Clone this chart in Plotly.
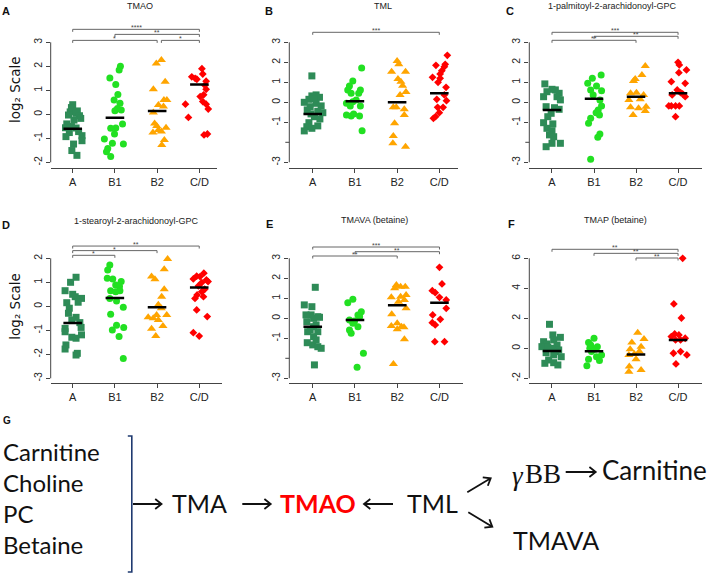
import math
import plotly.graph_objects as go

W, H = 709, 578
GROUPS = ["A", "B1", "B2", "C/D"]
COLORS = ["#2E8B57", "#22E022", "#FFA500", "#FF0000"]
SYMBOLS = ["square", "circle", "triangle-up", "diamond"]
SIZES = [7, 7, 8, 6]

# ---------------- Panel A: TMAO ----------------
TMAO_A_Y = [0.40, 0.28, 0.14, 0.10, 0.04, -0.06, -0.03, -0.17, -0.40, -0.51, -0.57, -0.56, -0.76, -0.89, -0.93, -1.10, -1.24, -1.51, -1.71, -0.24, -0.72]
TMAO_A_DX = [0.00, -0.03, 0.11, -0.06, 0.08, 0.16, -0.10, 0.19, -0.14, -0.03, 0.08, -0.17, -0.08, 0.22, -0.16, 0.22, 0.02, -0.02, 0.10, 0.03, 0.14]
TMAO_B1_Y = [2.00, 1.85, 1.51, 1.24, 0.82, 0.60, 0.46, 0.24, 0.15, 0.18, -0.40, -0.57, -0.58, -0.82, -1.03, -1.21, -1.24, -1.43, -1.56, -1.76]
TMAO_B1_DX = [0.13, 0.10, -0.12, 0.02, 0.07, -0.02, 0.12, 0.06, 0.00, 0.15, 0.18, 0.02, -0.10, -0.01, -0.25, -0.06, 0.20, -0.17, -0.20, -0.10]
TMAO_B2_Y = [2.26, 2.12, 1.36, 1.04, 0.60, 0.60, 0.39, 0.32, 0.08, -0.38, -0.49, -0.65, -0.56, -0.72, -0.76, -1.07, -1.28]
TMAO_B2_DX = [0.10, -0.02, 0.19, -0.09, 0.23, 0.16, 0.03, 0.15, -0.09, -0.06, -0.01, 0.03, 0.21, 0.10, -0.10, 0.17, 0.11]
TMAO_CD_Y = [1.90, 1.68, 1.56, 1.46, 1.38, 1.21, 1.04, 0.81, 0.74, 0.53, 0.42, 0.42, 0.22, -0.13, -0.82, -0.86, 1.50]
TMAO_CD_DX = [0.06, 0.08, -0.18, -0.06, 0.16, 0.13, 0.16, 0.10, 0.02, 0.08, -0.33, 0.16, 0.21, -0.26, 0.19, 0.11, -0.10]
TMAO_MED = [-0.60, -0.14, 0.14, 1.24]
TMAO_BR_FROM = [1, 2, 1, 3.1]
TMAO_BR_TO = [4, 4, 3, 4]
TMAO_BR_Y = [3.54, 3.33, 3.08, 3.08]
TMAO_BR_LAB = ["****", "**", "*", "*"]

# ---------------- Panel B: TML ----------------
TML_A_Y = [1.32, 0.37, 0.32, 0.25, 0.15, 0.00, -0.05, -0.18, -0.38, -0.45, -0.52, -0.58, -0.72, -0.83, -1.02, -1.18, -1.22, -1.43, -1.30, 0.18, -0.22]
TML_A_DX = [-0.02, 0.08, -0.02, 0.16, -0.09, -0.20, 0.08, 0.20, -0.13, 0.12, 0.24, -0.04, 0.04, 0.17, -0.09, 0.12, -0.14, -0.20, -0.02, 0.02, -0.06]
TML_B1_Y = [1.72, 1.07, 0.82, 0.62, 0.62, 0.45, 0.45, -0.05, 0.03, 0.12, -0.18, -0.18, -0.63, -0.68, -0.68, -0.58, -1.42]
TML_B1_DX = [0.16, -0.05, -0.13, -0.17, 0.13, 0.09, -0.09, -0.20, -0.05, 0.03, 0.13, -0.11, -0.20, -0.09, 0.11, -0.03, 0.17]
TML_B2_Y = [2.07, 1.90, 1.53, 1.53, 1.17, 1.03, 0.83, 0.52, 0.37, -0.25, -0.25, -0.35, -0.63, -1.05, -1.68, -2.05, -2.22]
TML_B2_DX = [0.00, 0.04, -0.13, 0.20, 0.02, 0.09, 0.13, 0.21, 0.07, -0.09, -0.02, 0.17, 0.17, -0.06, -0.09, -0.10, 0.20]
TML_CD_Y = [2.35, 1.90, 1.85, 1.78, 1.58, 1.42, 1.25, 1.20, 1.00, 0.75, 0.15, 0.08, -0.25, -0.25, -0.52, -0.72, -0.80, 0.37]
TML_CD_DX = [0.19, 0.14, -0.08, 0.12, 0.06, 0.02, -0.16, 0.02, -0.03, 0.16, -0.06, 0.17, -0.04, 0.09, 0.00, -0.09, -0.14, 0.12]
TML_MED = [-0.58, 0.05, 0.00, 0.45]
TML_BR_FROM = [1]
TML_BR_TO = [4]
TML_BR_Y = [3.50]
TML_BR_LAB = ["***"]

# ---------------- Panel C: 1-palmitoyl-2-arachidonoyl-GPC ----------------
PGPC_A_Y = [0.92, 0.65, 0.62, 0.53, 0.45, 0.28, 0.28, 0.12, -0.22, -0.27, -0.35, -0.55, -0.72, -1.02, -1.08, -1.30, -1.42, -1.63, -1.72, -2.05, -2.05, -2.22]
PGPC_A_DX = [-0.17, 0.00, 0.08, -0.12, 0.17, 0.12, -0.20, 0.20, -0.14, 0.06, 0.17, -0.02, -0.10, -0.20, 0.02, -0.12, 0.00, -0.06, 0.04, 0.20, 0.00, -0.14]
PGPC_B1_Y = [1.37, 1.20, 0.95, 0.82, 0.58, 0.62, 0.37, 0.12, -0.18, -0.38, -0.52, -0.63, -0.80, -1.05, -1.58, -1.75, -2.85]
PGPC_B1_DX = [0.17, -0.04, -0.15, 0.06, 0.18, -0.08, -0.02, 0.14, 0.18, 0.10, 0.05, 0.13, -0.08, -0.13, 0.14, 0.09, -0.08]
PGPC_B2_Y = [1.82, 1.37, 1.17, 1.07, 0.45, 0.48, 0.37, 0.12, 0.15, -0.25, -0.30, -0.22, -0.63, -0.43]
PGPC_B2_DX = [0.22, 0.14, -0.02, -0.06, -0.13, 0.01, 0.18, -0.17, 0.10, -0.13, 0.06, 0.24, -0.07, 0.22]
PGPC_CD_Y = [2.00, 1.87, 1.48, 1.62, 1.03, 0.95, 0.62, 0.37, 0.48, 0.28, -0.18, -0.18, -0.18, -0.18, -0.72, 0.42]
PGPC_CD_DX = [0.00, 0.03, 0.02, 0.20, -0.16, 0.17, -0.02, -0.14, 0.06, 0.17, -0.16, -0.06, 0.03, -0.22, -0.06, 0.11]
PGPC_MED = [-0.38, 0.18, 0.28, 0.45]
PGPC_BR_FROM = [1, 2, 1]
PGPC_BR_TO = [4, 4, 3]
PGPC_BR_Y = [3.50, 3.30, 3.10]
PGPC_BR_LAB = ["***", "**", "**"]

# ---------------- Panel D: 1-stearoyl-2-arachidonoyl-GPC ----------------
SGPC_A_Y = [1.21, 1.00, 0.65, 0.50, 0.33, 0.40, 0.15, 0.17, -0.08, -0.29, -0.46, -0.68, -0.92, -0.88, -1.06, -1.19, -1.29, -1.33, -1.61, -1.78, -1.96, -2.03, -0.57]
SGPC_A_DX = [0.08, -0.05, -0.18, 0.00, 0.21, 0.06, -0.14, 0.13, -0.08, -0.10, 0.08, 0.17, -0.18, 0.20, -0.18, 0.21, -0.02, 0.08, -0.16, -0.18, 0.11, 0.08, -0.02]
SGPC_B1_Y = [1.72, 1.51, 1.17, 1.14, 1.03, 0.89, 0.82, 0.65, 0.61, 0.65, 0.33, 0.22, -0.04, -0.33, -0.79, -0.88, -0.99, -1.26, -2.17]
SGPC_B1_DX = [-0.12, -0.17, -0.18, -0.05, 0.15, 0.02, 0.11, -0.10, 0.02, 0.12, -0.12, 0.04, 0.20, -0.10, 0.04, 0.21, -0.06, 0.10, 0.20]
SGPC_B2_Y = [1.97, 1.54, 1.24, 1.13, 0.71, 0.40, 0.06, -0.36, -0.46, -0.50, -0.57, -0.82, -0.94, -1.24, -0.36, -0.08]
SGPC_B2_DX = [0.25, 0.17, -0.13, -0.05, 0.17, 0.11, 0.03, -0.01, -0.21, -0.09, 0.03, 0.14, -0.13, -0.03, 0.23, 0.10]
SGPC_CD_Y = [1.38, 1.26, 1.24, 1.14, 1.10, 0.99, 0.85, 1.03, 0.71, 0.61, 0.47, 0.40, 0.33, -0.15, -0.43, -1.10, -1.24]
SGPC_CD_DX = [0.11, -0.06, 0.02, -0.14, 0.17, 0.06, -0.02, 0.21, 0.13, 0.06, -0.05, 0.10, -0.10, -0.06, 0.19, -0.14, 0.00]
SGPC_MED = [-0.70, 0.35, -0.04, 0.78]
SGPC_BR_FROM = [1, 1, 1]
SGPC_BR_TO = [4, 3, 2]
SGPC_BR_Y = [2.51, 2.32, 2.125]
SGPC_BR_LAB = ["**", "*", "*"]

# ---------------- Panel E: TMAVA (betaine) ----------------
TMAVA_A_Y = [1.55, 0.67, 0.58, 0.17, 0.17, 0.08, 0.05, 0.00, -0.17, -0.33, -0.42, -0.67, -0.67, -0.92, -1.22, -1.33, -1.42, -1.50, -2.33, -0.58, -1.08]
TMAVA_A_DX = [0.06, -0.20, -0.02, -0.04, -0.16, 0.12, 0.16, 0.02, -0.14, 0.08, 0.02, -0.12, 0.12, 0.02, -0.13, 0.00, 0.12, 0.20, 0.04, -0.06, 0.08]
TMAVA_B1_Y = [0.95, 0.78, 0.33, 0.17, -0.08, -0.13, -0.42, -0.58, -0.75, -1.75, -2.45, -0.25, 0.08]
TMAVA_B1_DX = [-0.05, -0.17, 0.15, 0.07, -0.13, -0.01, 0.07, -0.13, -0.09, 0.20, 0.05, -0.05, 0.11]
TMAVA_B2_Y = [1.67, 1.58, 1.58, 1.50, 1.17, 1.08, 1.05, 0.92, 0.83, 0.20, 0.50, -0.38, -0.25, -0.42, -0.45, -0.55, -1.05, -2.28]
TMAVA_B2_DX = [-0.02, 0.08, 0.19, -0.06, 0.21, 0.08, -0.14, 0.17, 0.03, -0.13, 0.21, -0.14, 0.00, 0.10, 0.16, 0.00, 0.17, -0.09]
TMAVA_CD_Y = [2.55, 1.72, 1.38, 1.28, 1.05, 0.92, 0.50, 0.17, -0.05, -0.22, -0.33, -1.17, -1.17]
TMAVA_CD_DX = [0.00, 0.06, -0.17, -0.10, 0.00, 0.16, 0.16, -0.16, 0.02, -0.17, -0.10, -0.11, 0.12]
TMAVA_MED = [-0.42, -0.08, 0.65, 0.78]
TMAVA_BR_FROM = [1, 2, 1]
TMAVA_BR_TO = [4, 4, 3]
TMAVA_BR_Y = [3.565, 3.33, 3.115]
TMAVA_BR_LAB = ["***", "**", "**"]

# ---------------- Panel F: TMAP (betaine) ----------------
TMAP_A_Y = [1.60, 0.89, 0.73, 0.44, 0.56, 0.29, 0.22, 0.11, 0.00, -0.11, -0.29, -0.44, -0.56, -0.78, -1.00, -0.96, -1.11, 0.07, -0.22]
TMAP_A_DX = [-0.06, 0.02, 0.20, -0.20, 0.04, -0.12, 0.12, -0.24, 0.00, 0.16, -0.14, 0.04, 0.22, -0.08, -0.17, 0.04, 0.14, -0.10, 0.08]
TMAP_B1_Y = [0.67, 0.38, 0.11, 0.00, -0.22, -0.44, -0.56, -0.73, -0.82, -1.16, -0.07, 0.22]
TMAP_B1_DX = [0.00, -0.13, 0.08, -0.10, -0.06, 0.18, 0.06, -0.13, 0.13, -0.17, 0.02, -0.08]
TMAP_B2_Y = [1.04, 0.62, 0.38, 0.11, -0.07, -0.22, -0.44, -0.73, -1.22, -1.44, -1.56, -0.38]
TMAP_B2_DX = [0.04, 0.19, -0.10, 0.12, -0.14, 0.08, -0.17, 0.00, -0.16, 0.12, -0.17, -0.04]
TMAP_CD_Y = [6.00, 2.96, 2.02, 0.96, 0.89, 0.78, 0.67, 0.56, 0.56, -0.33, -0.22, -0.44, -1.04]
TMAP_CD_DX = [0.11, -0.10, 0.08, -0.08, 0.02, -0.16, 0.17, -0.06, 0.06, -0.11, 0.06, 0.21, -0.05]
TMAP_MED = [-0.18, -0.20, -0.42, 0.55]
TMAP_BR_FROM = [1, 2, 3]
TMAP_BR_TO = [4, 4, 4]
TMAP_BR_Y = [6.60, 6.33, 6.02]
TMAP_BR_LAB = ["**", "**", "**"]

TICKS_A = [-2, -1, 0, 1, 2, 3]
TICKS_B = [-3, -2, -1, 0, 1, 2, 3]
TICKS_B_LABELLED = [-3, -1, 0, 1, 2, 3]
TICKS_D = [-3, -2, -1, 0, 1, 2]
TICKS_F = [-2, 0, 2, 4, 6]

# ---------------- layout helpers (pixel -> paper) ----------------
def PX(x):
    return x / W

def PY(y):
    return 1 - y / H

FONT = "Liberation Sans, Arial, sans-serif"

panels = [
    dict(letter="A", title="TMAO", ys=[TMAO_A_Y, TMAO_B1_Y, TMAO_B2_Y, TMAO_CD_Y],
         dxs=[TMAO_A_DX, TMAO_B1_DX, TMAO_B2_DX, TMAO_CD_DX], med=TMAO_MED,
         br=(TMAO_BR_FROM, TMAO_BR_TO, TMAO_BR_Y, TMAO_BR_LAB),
         ticks=TICKS_A, labelled=TICKS_A,
         xpx=(50.7, 216.7), xr=[0.479, 4.41], ypx=(20, 168), zero=114.3, ppu=24,
         tpos=(140, 6), lpos=(6, 11)),
    dict(letter="B", title="TML", ys=[TML_A_Y, TML_B1_Y, TML_B2_Y, TML_CD_Y],
         dxs=[TML_A_DX, TML_B1_DX, TML_B2_DX, TML_CD_DX], med=TML_MED,
         br=(TML_BR_FROM, TML_BR_TO, TML_BR_Y, TML_BR_LAB),
         ticks=TICKS_B, labelled=TICKS_B_LABELLED,
         xpx=(289.3, 457.7), xr=[0.445, 4.436], ypx=(20, 168), zero=102.3, ppu=20,
         tpos=(382.7, 6), lpos=(269, 11)),
    dict(letter="C", title="1-palmitoyl-2-arachidonoyl-GPC", ys=[PGPC_A_Y, PGPC_B1_Y, PGPC_B2_Y, PGPC_CD_Y],
         dxs=[PGPC_A_DX, PGPC_B1_DX, PGPC_B2_DX, PGPC_CD_DX], med=PGPC_MED,
         br=(PGPC_BR_FROM, PGPC_BR_TO, PGPC_BR_Y, PGPC_BR_LAB),
         ticks=TICKS_B, labelled=TICKS_B_LABELLED,
         xpx=(529.3, 702), xr=[0.46, 4.57], ypx=(20, 168), zero=102.3, ppu=20,
         tpos=(612, 6), lpos=(510, 11)),
    dict(letter="D", title="1-stearoyl-2-arachidonoyl-GPC", ys=[SGPC_A_Y, SGPC_B1_Y, SGPC_B2_Y, SGPC_CD_Y],
         dxs=[SGPC_A_DX, SGPC_B1_DX, SGPC_B2_DX, SGPC_CD_DX], med=SGPC_MED,
         br=(SGPC_BR_FROM, SGPC_BR_TO, SGPC_BR_Y, SGPC_BR_LAB),
         ticks=TICKS_D, labelled=TICKS_D,
         xpx=(50.7, 222), xr=[0.479, 4.54], ypx=(235, 382.7), zero=306.3, ppu=24,
         tpos=(136.7, 220.5), lpos=(6, 225)),
    dict(letter="E", title="TMAVA (betaine)", ys=[TMAVA_A_Y, TMAVA_B1_Y, TMAVA_B2_Y, TMAVA_CD_Y],
         dxs=[TMAVA_A_DX, TMAVA_B1_DX, TMAVA_B2_DX, TMAVA_CD_DX], med=TMAVA_MED,
         br=(TMAVA_BR_FROM, TMAVA_BR_TO, TMAVA_BR_Y, TMAVA_BR_LAB),
         ticks=TICKS_B, labelled=TICKS_B_LABELLED,
         xpx=(289.3, 462.7), xr=[0.445, 4.55], ypx=(235, 382.7), zero=318.3, ppu=20,
         tpos=(375, 220), lpos=(269, 224)),
    dict(letter="F", title="TMAP (betaine)", ys=[TMAP_A_Y, TMAP_B1_Y, TMAP_B2_Y, TMAP_CD_Y],
         dxs=[TMAP_A_DX, TMAP_B1_DX, TMAP_B2_DX, TMAP_CD_DX], med=TMAP_MED,
         br=(TMAP_BR_FROM, TMAP_BR_TO, TMAP_BR_Y, TMAP_BR_LAB),
         ticks=TICKS_F, labelled=TICKS_F,
         xpx=(529.3, 702), xr=[0.46, 4.57], ypx=(235, 382.7), zero=348.3, ppu=15,
         tpos=(615.3, 220), lpos=(511, 224)),
]

fig = go.Figure()
shapes = []
annotations = []
layout_axes = {}
TICKLEN = 4

for i, p in enumerate(panels):
    n = i + 1
    xa = "x" if n == 1 else f"x{n}"
    ya = "y" if n == 1 else f"y{n}"
    xkey = "xaxis" if n == 1 else f"xaxis{n}"
    ykey = "yaxis" if n == 1 else f"yaxis{n}"
    top, bot = p["ypx"]
    yr = [(p["zero"] - bot) / p["ppu"], (p["zero"] - top) / p["ppu"]]
    wpx = p["xpx"][1] - p["xpx"][0]

    # points
    for g in range(4):
        xs = [g + 1 + d for d in p["dxs"][g]]
        fig.add_trace(go.Scatter(
            x=xs, y=p["ys"][g], mode="markers", xaxis=xa, yaxis=ya,
            marker=dict(symbol=SYMBOLS[g], color=COLORS[g], size=SIZES[g], line=dict(width=0)),
            showlegend=False, hoverinfo="skip", cliponaxis=False))
    # medians
    mx, my = [], []
    for g, m in enumerate(p["med"]):
        mx += [g + 1 - 0.22, g + 1 + 0.22, None]
        my += [m, m, None]
    fig.add_trace(go.Scatter(x=mx, y=my, mode="lines", xaxis=xa, yaxis=ya,
                             line=dict(color="black", width=2.5),
                             showlegend=False, hoverinfo="skip"))

    layout_axes[xkey] = dict(
        domain=[PX(p["xpx"][0]), PX(p["xpx"][1])], range=p["xr"], anchor=ya,
        tickmode="array", tickvals=[1, 2, 3, 4], ticktext=GROUPS,
        showline=True, linecolor="#444", linewidth=1, ticks="outside", ticklen=TICKLEN,
        tickcolor="#444", showgrid=False, zeroline=False,
        tickfont=dict(family=FONT, size=11, color="#222"), fixedrange=True)
    layout_axes[ykey] = dict(
        domain=[PY(bot), PY(top)], range=yr, anchor=xa,
        tickmode="array", tickvals=p["labelled"], ticktext=[str(t) for t in p["labelled"]],
        tickangle=-90, showline=False, ticks="outside", ticklen=TICKLEN, tickcolor="#444",
        showgrid=False, zeroline=False,
        tickfont=dict(family=FONT, size=10.5, color="#222"), fixedrange=True)

    # y axis line from first to last tick
    shapes.append(dict(type="line", xref=f"{xa} domain", yref=ya, x0=0, x1=0,
                       y0=min(p["ticks"]), y1=max(p["ticks"]),
                       line=dict(color="#444", width=1)))
    # unlabelled tick marks (R drops overlapping labels)
    for t in p["ticks"]:
        if t not in p["labelled"]:
            shapes.append(dict(type="line", xref=f"{xa} domain", yref=ya,
                               x0=-TICKLEN / wpx, x1=0, y0=t, y1=t,
                               line=dict(color="#444", width=1)))

    # significance brackets
    drop = 2.5 / p["ppu"]
    f_, t_, yb, lab = p["br"]
    for a, b, yy, s in zip(f_, t_, yb, lab):
        shapes.append(dict(type="path", xref=xa, yref=ya,
                           path=f"M {a} {yy - drop} L {a} {yy} L {b} {yy} L {b} {yy - drop}",
                           line=dict(color="#666", width=1)))
        annotations.append(dict(x=(a + b) / 2, y=yy, xref=xa, yref=ya, text=s,
                                showarrow=False, yanchor="bottom", yshift=-4,
                                font=dict(family=FONT, size=7, color="#444")))

    # title and letter
    annotations.append(dict(x=PX(p["tpos"][0]), y=PY(p["tpos"][1]), xref="paper", yref="paper",
                            text=p["title"], showarrow=False, xanchor="center", yanchor="middle",
                            font=dict(family=FONT, size=9, color="#222")))
    annotations.append(dict(x=PX(p["lpos"][0]), y=PY(p["lpos"][1]), xref="paper", yref="paper",
                            text=p["letter"], showarrow=False, xanchor="center", yanchor="middle",
                            font=dict(family=FONT, size=11, color="#111", weight="bold")))

# y axis titles
for yc in (90, 306.7):
    annotations.append(dict(x=PX(15), y=PY(yc), xref="paper", yref="paper",
                            text="log₂ Scale", textangle=-90, showarrow=False,
                            xanchor="center", yanchor="middle",
                            font=dict(family="DejaVu Sans, Liberation Sans, sans-serif", size=13.5, color="#111")))

# ---------------- Panel G: pathway diagram ----------------
DFONT = "Lato, Carlito, Calibri, sans-serif"

def txt(x, y, s, size=24, color="#111", family=DFONT, anchor="left", weight="normal", style="normal"):
    annotations.append(dict(x=PX(x), y=PY(y), xref="paper", yref="paper", text=s,
                            showarrow=False, xanchor=anchor, yanchor="middle", borderpad=0,
                            font=dict(family=family, size=size, color=color, weight=weight, style=style)))

def arrow(x0, y0, x1, y1, head=8, ang=38):
    dx, dy = x1 - x0, y1 - y0
    L = math.hypot(dx, dy)
    ux, uy = dx / L, dy / L
    pts = []
    for sgn in (1, -1):
        a = math.radians(ang * sgn)
        rx = ux * math.cos(a) - uy * math.sin(a)
        ry = ux * math.sin(a) + uy * math.cos(a)
        pts.append((x1 - head * rx, y1 - head * ry))
    path = (f"M {PX(x0)} {PY(y0)} L {PX(x1)} {PY(y1)} "
            f"M {PX(pts[0][0])} {PY(pts[0][1])} L {PX(x1)} {PY(y1)} L {PX(pts[1][0])} {PY(pts[1][1])}")
    shapes.append(dict(type="path", xref="paper", yref="paper", path=path,
                       line=dict(color="#111", width=1.8)))

txt(6.8, 421, "G", size=10, family=FONT, anchor="center", weight="bold")
for s, yy in zip(["Carnitine", "Choline", "PC", "Betaine"], [451, 482, 513, 544]):
    txt(2, yy, s, size=24)

# bracket
shapes.append(dict(type="path", xref="paper", yref="paper",
                   path=f"M {PX(127.8)} {PY(436)} L {PX(131.8)} {PY(436)} L {PX(131.8)} {PY(572)} L {PX(127.8)} {PY(572)}",
                   line=dict(color="#1F3A70", width=1.6)))

SERIF = "Liberation Serif, DejaVu Serif, serif"
arrow(133, 504, 161.5, 504)
txt(171, 503, "TMA", size=25)
arrow(242.3, 504, 270.7, 504)
txt(279, 503, "TMAO", size=25, color="#FF0000", weight="bold")
arrow(393, 504, 364, 504)
txt(405.5, 503, "TML", size=25)
arrow(467.3, 492.3, 490.7, 478.3)
arrow(468.3, 512.3, 492.3, 526.7)
txt(510.5, 476, "γ", size=27, family=SERIF, style="italic")
txt(524, 474, "BB", size=27, family=SERIF)
arrow(565.7, 472, 595.7, 472)
txt(600.5, 470, "Carnitine", size=26)
txt(512, 540, "TMAVA", size=25)

fig.update_layout(width=W, height=H, margin=dict(l=0, r=0, t=0, b=0),
                  paper_bgcolor="white", plot_bgcolor="white",
                  showlegend=False, shapes=shapes, annotations=annotations, **layout_axes)

fig.write_html("out.html", config={"displayModeBar": False, "staticPlot": True},
               post_script="document.body.style.margin='0px';document.body.style.padding='0px';")
